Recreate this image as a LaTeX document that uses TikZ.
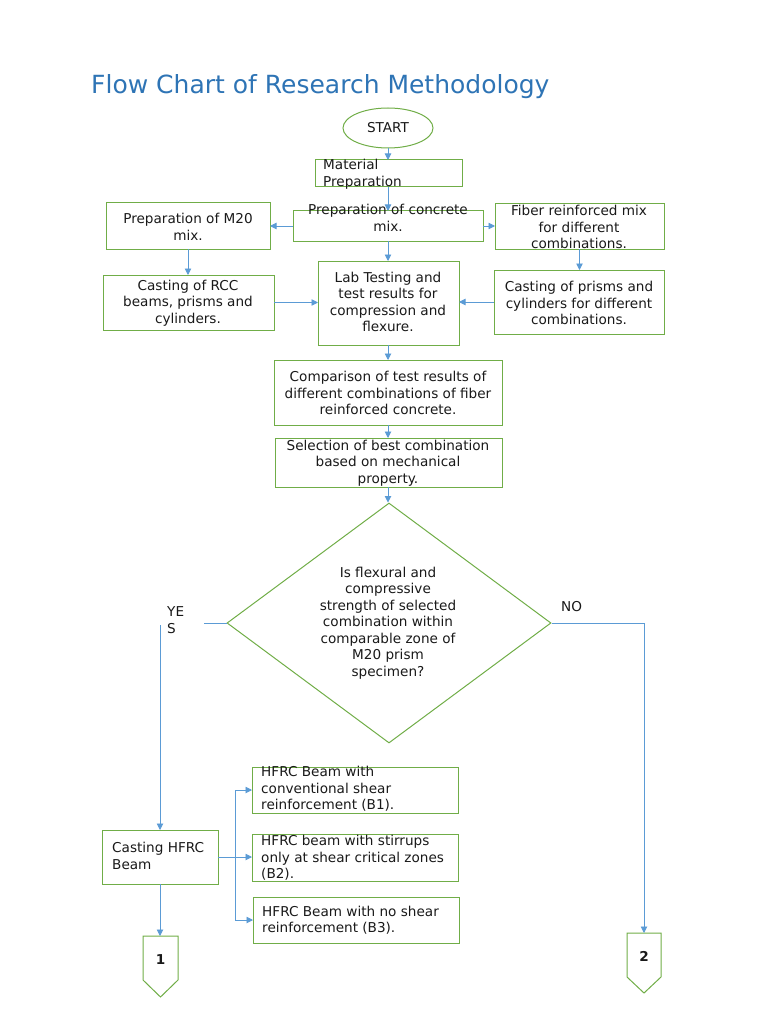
\documentclass[tikz,border=0pt]{standalone}
\usepackage{fontspec}
\setmainfont{DejaVu Sans}
\usetikzlibrary{arrows.meta,shapes.geometric}
\definecolor{grn}{HTML}{70AD47}
\definecolor{blu}{HTML}{5B9BD5}
\definecolor{ttl}{HTML}{2E74B5}
\begin{document}
\begin{tikzpicture}[x=1pt,y=-1pt,
  box/.style={draw=grn,line width=1pt,rectangle,inner sep=0pt,outer sep=0pt},
  txt/.style={font=\fontsize{13.6}{16.5}\selectfont,align=center,inner sep=0pt,text=black!90},
  ltxt/.style={txt,align=left},
  conn/.style={draw=blu,line width=0.9pt,-{Triangle[length=6.5pt,width=6.5pt]}},
  plain/.style={draw=blu,line width=0.9pt}]
\useasboundingbox (0,0) rectangle (768,1024);

\node[anchor=base west,font=\fontsize{25}{30}\selectfont,text=ttl,inner sep=0pt] (title) at (91,94) {Flow Chart of Research Methodology};

% start
\node[draw=grn,line width=1pt,ellipse,minimum width=90pt,minimum height=40pt,inner sep=0pt] (start) at (388,128) {};
\node[txt] (tstart) at (388,128) {START};

% boxes
\node[box,minimum width=147pt,minimum height=27pt] (mat) at (388.5,173.5) {};
\node[ltxt,anchor=west] (tmat) at (323,174) {Material\\Preparation};

\node[box,minimum width=190pt,minimum height=30pt] (mix) at (388,226) {};
\node[txt] (tmix) at (388,218) {Preparation of concrete\\mix.};

\node[box,minimum width=164pt,minimum height=46pt] (m20) at (188,226) {};
\node[txt] (tm20) at (188,227) {Preparation of M20\\mix.};

\node[box,minimum width=169pt,minimum height=45pt] (fib) at (579.5,226.5) {};
\node[txt] (tfib) at (579,227) {Fiber reinforced mix\\for different\\combinations.};

\node[box,minimum width=171pt,minimum height=55pt] (rcc) at (188.5,302.5) {};
\node[txt] (trcc) at (188,303) {Casting of RCC\\beams, prisms and\\cylinders.};

\node[box,minimum width=141pt,minimum height=84pt] (lab) at (388.5,303) {};
\node[txt] (tlab) at (388,302) {Lab Testing and\\test results for\\compression and\\flexure.};

\node[box,minimum width=170pt,minimum height=64pt] (pri) at (579,302) {};
\node[txt] (tpri) at (579,303) {Casting of prisms and\\cylinders for different\\combinations.};

\node[box,minimum width=228pt,minimum height=65pt] (cmp) at (388,392.5) {};
\node[txt] (tcmp) at (388,393) {Comparison of test results of\\different combinations of fiber\\reinforced concrete.};

\node[box,minimum width=227pt,minimum height=49pt] (sel) at (388.5,462.5) {};
\node[txt] (tsel) at (388,463) {Selection of best combination\\based on mechanical\\property.};

% decision
\node[draw=grn,line width=1pt,diamond,minimum width=324pt,minimum height=240pt,inner sep=0pt] (dia) at (389,623) {};
\node[txt] (tdia) at (388,623) {Is flexural and\\compressive\\strength of selected\\combination within\\comparable zone of\\M20 prism\\specimen?};

\node[ltxt,anchor=west] (yes) at (167,620) {YE\\S};
\node[ltxt,anchor=west] (no) at (561,607) {NO};

% lower boxes
\node[box,minimum width=116pt,minimum height=54pt] (hfrc) at (160,857) {};
\node[ltxt,anchor=west] (thfrc) at (112,856) {Casting HFRC\\Beam};

\node[box,minimum width=206pt,minimum height=46pt] (b1) at (355,790) {};
\node[ltxt,anchor=west] (tb1) at (261,789) {HFRC Beam with\\conventional shear\\reinforcement (B1).};

\node[box,minimum width=206pt,minimum height=47pt] (b2) at (355,857.5) {};
\node[ltxt,anchor=west] (tb2) at (261,858) {HFRC beam with stirrups\\only at shear critical zones\\(B2).};

\node[box,minimum width=206pt,minimum height=46pt] (b3) at (356,920) {};
\node[ltxt,anchor=west] (tb3) at (262,920) {HFRC Beam with no shear\\reinforcement (B3).};

% off-page connectors
\draw[draw=grn,line width=1pt] (143,936) -- (178,936) -- (178,980) -- (160.5,997) -- (143,980) -- cycle;
\coordinate (c1top) at (160,936);
\node[txt,font=\fontsize{13.6}{16.5}\selectfont\bfseries] (c1) at (160.5,960) {1};
\draw[draw=grn,line width=1pt] (627,933) -- (661,933) -- (661,977) -- (644,993) -- (627,977) -- cycle;
\coordinate (c2top) at (644,933);
\node[txt,font=\fontsize{13.6}{16.5}\selectfont\bfseries] (c2) at (644,956) {2};

% connectors
\draw[conn] (start.south) -- (start.south |- mat.north);
\draw[conn] (mat.south -| start.south) -- (start.south |- mix.north);
\draw[conn] (mix.west) -- (mix.west -| m20.east);
\draw[conn] (mix.east) -- (mix.east -| fib.west);
\draw[conn] (mix.south) -- (mix.south |- lab.north);
\draw[conn] (m20.south) -- (m20.south |- rcc.north);
\draw[conn] (fib.south) -- (fib.south |- pri.north);
\draw[conn] (rcc.east) -- (rcc.east -| lab.west);
\draw[conn] (pri.west) -- (pri.west -| lab.east);
\draw[conn] (lab.south -| mix.south) -- (mix.south |- cmp.north);
\draw[conn] (cmp.south) -- (cmp.south |- sel.north);
\draw[conn] (sel.south -| cmp.south) -- (cmp.south |- dia.north);

\coordinate (yl) at (204,623);
\coordinate (ys) at (160,625);
\draw[plain] (dia.west) -- (yl);
\draw[conn] (ys) -- (hfrc.north);
\draw[conn] (dia.east) -| (c2top);

\coordinate (jn) at (235,857);
\draw[conn] (hfrc.east) -- (hfrc.east -| b2.west);
\draw[conn] (jn) |- (b1.west);
\draw[conn] (jn) |- (b3.west);
\draw[conn] (hfrc.south) -- (c1top);
\end{tikzpicture}
\end{document}
